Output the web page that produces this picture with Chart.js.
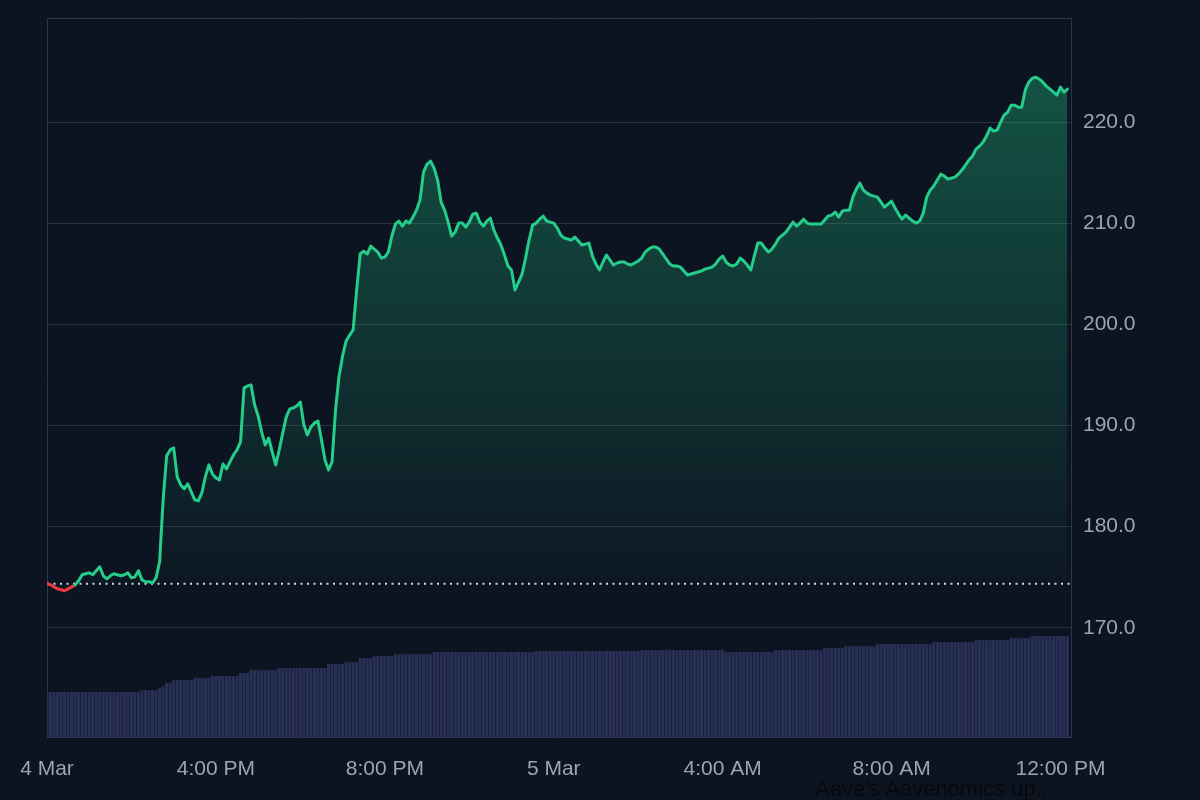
<!DOCTYPE html>
<html>
<head>
<meta charset="utf-8">
<title>AAVE price</title>
<script src="https://cdn.jsdelivr.net/npm/chart.js@4.4.1/dist/chart.umd.min.js"></script>
<style>
  html, body { margin: 0; padding: 0; background: #0d1421; }
  #wrap { position: relative; width: 1200px; height: 800px; overflow: hidden; }
  #headline {
    position: absolute; left: 815px; top: 776px;
    font: 22px "Liberation Sans", Arial, sans-serif;
    color: #07090d; white-space: nowrap;
  }
</style>
</head>
<body>
<div id="wrap">
  <canvas id="priceChart" width="1200" height="800"></canvas>
  <div id="headline">Aave's Aavenomics up...</div>
</div>
<script>
// one sample every 5 minutes, from 12:00 PM 4 Mar to ~12:10 PM 5 Mar
const STEP_MIN = 5;
const X_MAX = 1455;

// price (USD), one row per hour
const priceValues = [
  174.35, 174.25, 174.05, 173.85, 173.76, 173.66, 173.85, 174.05, 174.25, 174.64, 175.24, 175.34,
  175.43, 175.24, 175.63, 176.03, 175.14, 174.84, 175.14, 175.34, 175.24, 175.14, 175.24, 175.43,
  174.94, 175.04, 175.63, 174.74, 174.55, 174.55, 174.45, 174.94, 176.52, 182.65, 187.00, 187.59,
  187.79, 184.92, 184.13, 183.74, 184.23, 183.44, 182.65, 182.55, 183.34, 184.92, 186.11, 185.22,
  184.82, 184.62, 186.20, 185.71, 186.40, 187.09, 187.59, 188.38, 193.72, 193.91, 194.01, 192.04,
  190.95, 189.37, 188.08, 188.77, 187.39, 186.11, 187.59, 189.27, 190.85, 191.65, 191.74, 191.94,
  192.33, 190.06, 189.07, 189.86, 190.26, 190.45, 188.58, 186.60, 185.61, 186.40, 191.54, 194.90,
  196.88, 198.36, 198.95, 199.45, 203.40, 206.96, 207.25, 206.96, 207.75, 207.45, 207.15, 206.56,
  206.66, 207.15, 208.74, 209.92, 210.22, 209.72, 210.22, 210.02, 210.61, 211.30, 212.29, 215.06,
  215.85, 216.15, 215.45, 214.27, 212.10, 211.30, 210.12, 208.74, 209.13, 210.02, 210.02, 209.62,
  210.12, 210.91, 211.00, 210.12, 209.72, 210.22, 210.51, 209.33, 208.54, 207.85, 206.86, 205.77,
  205.38, 203.40, 204.19, 204.98, 206.56, 208.34, 209.82, 210.02, 210.41, 210.71, 210.22, 210.12,
  210.02, 209.53, 208.84, 208.54, 208.45, 208.34, 208.64, 208.24, 207.85, 207.94, 208.04, 206.76,
  205.97, 205.38, 206.17, 206.86, 206.36, 205.87, 206.07, 206.17, 206.17, 205.97, 205.87, 206.07,
  206.27, 206.56, 207.15, 207.45, 207.65, 207.65, 207.45, 206.96, 206.46, 205.97, 205.77, 205.77,
  205.67, 205.28, 204.88, 204.98, 205.08, 205.18, 205.28, 205.47, 205.57, 205.67, 205.97, 206.46,
  206.76, 206.17, 205.87, 205.77, 205.97, 206.56, 206.27, 205.87, 205.38, 206.76, 208.04, 208.04,
  207.55, 207.15, 207.45, 207.94, 208.54, 208.84, 209.13, 209.62, 210.12, 209.72, 210.02, 210.41,
  210.02, 209.92, 209.92, 209.92, 209.92, 210.32, 210.71, 210.81, 211.11, 210.61, 211.20, 211.30,
  211.30, 212.59, 213.38, 213.97, 213.28, 212.98, 212.79, 212.69, 212.59, 212.10, 211.60, 211.90,
  212.19, 211.51, 210.91, 210.41, 210.81, 210.51, 210.22, 210.02, 210.22, 211.01, 212.59, 213.28,
  213.68, 214.27, 214.86, 214.66, 214.37, 214.47, 214.57, 214.86, 215.26, 215.75, 216.25, 216.64,
  217.33, 217.63, 218.02, 218.62, 219.41, 219.11, 219.21, 220.00, 220.69, 220.99, 221.68, 221.68,
  221.48, 221.48, 223.16, 223.95, 224.35, 224.45, 224.25, 223.95, 223.56, 223.26, 222.96, 222.67,
  223.46, 222.96, 223.26
];

// volume bars (M USD), same sampling
const volumeValues = [
  22.5, 22.5, 22.5, 22.5, 22.5, 22.5, 22.5, 22.5, 22.5, 22.5, 22.5, 22.5,
  22.5, 22.5, 22.5, 22.5, 22.5, 22.5, 22.5, 22.5, 22.5, 22.5, 22.5, 22.5,
  22.5, 22.5, 22.5, 23.5, 23.5, 23.5, 23.5, 23.5, 24.5, 25.5, 27.0, 27.0,
  28.5, 28.5, 28.5, 28.5, 28.5, 28.5, 29.5, 29.5, 29.5, 29.5, 29.5, 30.5,
  30.5, 30.5, 30.5, 30.5, 30.5, 30.5, 30.5, 32.0, 32.0, 32.0, 33.5, 33.5,
  33.5, 33.5, 33.5, 33.5, 33.5, 33.5, 34.5, 34.5, 34.5, 34.5, 34.5, 34.5,
  34.5, 34.5, 34.5, 34.5, 34.5, 34.5, 34.5, 34.5, 36.5, 36.5, 36.5, 36.5,
  36.5, 37.5, 37.5, 37.5, 37.5, 39.5, 39.5, 39.5, 39.5, 40.5, 40.5, 40.5,
  40.5, 40.5, 40.5, 41.5, 41.5, 41.5, 41.5, 41.5, 41.5, 41.5, 41.5, 41.5,
  41.5, 41.5, 42.5, 42.5, 42.5, 42.5, 42.5, 42.5, 42.5, 42.5, 42.5, 42.5,
  42.5, 42.5, 42.5, 42.5, 42.5, 42.5, 42.5, 42.5, 42.5, 42.5, 42.5, 42.5,
  42.5, 42.5, 42.5, 42.5, 42.5, 42.5, 42.5, 43.0, 43.0, 43.0, 43.0, 43.0,
  43.0, 43.0, 43.0, 43.0, 43.0, 43.0, 43.0, 43.0, 43.0, 43.0, 43.0, 43.0,
  43.0, 43.0, 43.0, 43.0, 43.0, 43.0, 43.0, 43.0, 43.0, 43.0, 43.0, 43.0,
  43.0, 43.5, 43.5, 43.5, 43.5, 43.5, 43.5, 43.5, 43.5, 43.5, 43.5, 43.5,
  43.5, 43.5, 43.5, 43.5, 43.5, 43.5, 43.5, 43.5, 43.5, 43.5, 43.5, 43.5,
  43.5, 42.5, 42.5, 42.5, 42.5, 42.5, 42.5, 42.5, 42.5, 42.5, 42.5, 42.5,
  42.5, 42.5, 42.5, 43.5, 43.5, 43.5, 43.5, 43.5, 43.5, 43.5, 43.5, 43.5,
  43.5, 43.5, 43.5, 43.5, 43.5, 44.5, 44.5, 44.5, 44.5, 44.5, 44.5, 45.5,
  45.5, 45.5, 45.5, 45.5, 45.5, 45.5, 45.5, 45.5, 46.5, 46.5, 46.5, 46.5,
  46.5, 46.5, 46.5, 46.5, 46.5, 46.5, 46.5, 46.5, 46.5, 46.5, 46.5, 46.5,
  47.5, 47.5, 47.5, 47.5, 47.5, 47.5, 47.5, 47.5, 47.5, 47.5, 47.5, 47.5,
  48.5, 48.5, 48.5, 48.5, 48.5, 48.5, 48.5, 48.5, 48.5, 48.5, 49.5, 49.5,
  49.5, 49.5, 49.5, 49.5, 50.5, 50.5, 50.5, 50.5, 50.5, 50.5, 50.5, 50.5,
  50.5, 50.5, 50.5
];

// x axis ticks (minutes from start) and their labels
const tickMinutes = [0, 240, 480, 720, 960, 1200, 1440];
const tickLabels = ['4 Mar', '4:00 PM', '8:00 PM', '5 Mar', '4:00 AM', '8:00 AM', '12:00 PM'];
const priceTicks = [170, 180, 190, 200, 210, 220];

const openPrice = priceValues[0];

const GREEN = '#24cd8a';
const RED = '#ea3943';
const GRID = '#2a303f';
const FRAME = '#30364a';
const TEXT = '#9ca3b3';
const FONT = { family: '"Liberation Sans", Arial, sans-serif', size: 21 };

// green fade from the top of the plot down to the opening price
function areaFill(context) {
    const chart = context.chart;
    const area = chart.chartArea;
    if (!area) return 'rgba(34,204,136,0.15)';
    const baseY = chart.scales.y.getPixelForValue(openPrice);
    const g = chart.ctx.createLinearGradient(0, area.top, 0, baseY);
    g.addColorStop(0, 'rgba(34,204,136,0.38)');
    g.addColorStop(1, 'rgba(34,204,136,0.02)');
    return g;
}

// top + left edges of the plot box (right/bottom are the axis borders)
const framePlugin = {
    id: 'frame',
    beforeDatasetsDraw(chart) {
        const { ctx, chartArea: a } = chart;
        ctx.save();
        ctx.strokeStyle = FRAME;
        ctx.lineWidth = 1;
        ctx.beginPath();
        ctx.moveTo(a.left + 0.5, a.bottom);
        ctx.lineTo(a.left + 0.5, a.top + 0.5);
        ctx.lineTo(a.right, a.top + 0.5);
        ctx.stroke();
        ctx.restore();
    }
};

const ctx = document.getElementById('priceChart').getContext('2d');

new Chart(ctx, {
    type: 'line',
    data: {
        datasets: [
            {
                label: 'Price',
                data: priceValues.map((v, i) => ({ x: i * STEP_MIN, y: v })),
                yAxisID: 'y',
                borderColor: GREEN,
                borderWidth: 3,
                borderJoinStyle: 'round',
                borderCapStyle: 'round',
                pointRadius: 0,
                tension: 0,
                fill: { value: openPrice },
                backgroundColor: areaFill,
                segment: {
                    borderColor: c => ((c.p0.parsed.y + c.p1.parsed.y) / 2 < openPrice ? RED : GREEN)
                },
                order: 0
            },
            {
                label: 'Open',
                data: [{ x: 0, y: openPrice }, { x: X_MAX, y: openPrice }],
                yAxisID: 'y',
                borderColor: 'rgba(230,235,245,0.9)',
                borderWidth: 2,
                borderDash: [2, 4.5],
                pointRadius: 0,
                fill: false,
                order: 1
            },
            {
                type: 'bar',
                label: 'Volume',
                data: volumeValues.map((v, i) => ({ x: i * STEP_MIN, y: v })),
                yAxisID: 'yVol',
                backgroundColor: '#283056',
                barPercentage: 0.88,
                categoryPercentage: 1,
                order: 2
            }
        ]
    },
    options: {
        responsive: false,
        animation: false,
        layout: { padding: { left: 47, top: 18, right: 0, bottom: 0 } },
        scales: {
            x: {
                type: 'linear',
                min: 0,
                max: X_MAX,
                offset: false,
                grid: { display: false, drawTicks: false },
                border: { display: true, color: FRAME },
                afterBuildTicks: s => { s.ticks = tickMinutes.map(v => ({ value: v })); },
                afterFit: s => { s.height = 63; s.paddingLeft = 0; s.paddingRight = 0; },
                ticks: {
                    color: TEXT,
                    font: FONT,
                    padding: 20,
                    maxRotation: 0,
                    autoSkip: false,
                    callback: v => tickLabels[tickMinutes.indexOf(v)]
                }
            },
            y: {
                position: 'right',
                min: 159.2,
                max: 230.3,
                grid: { color: GRID, drawTicks: false },
                border: { display: true, color: FRAME },
                afterBuildTicks: s => { s.ticks = priceTicks.map(v => ({ value: v })); },
                afterFit: s => { s.width = 129; s.paddingTop = 0; s.paddingBottom = 0; },
                ticks: {
                    color: TEXT,
                    font: FONT,
                    padding: 12,
                    callback: v => v.toFixed(1)
                }
            },
            yVol: {
                display: false,
                min: 0,
                max: 360
            }
        },
        plugins: {
            legend: { display: false },
            tooltip: { enabled: false }
        }
    },
    plugins: [framePlugin]
});
</script>
</body>
</html>
